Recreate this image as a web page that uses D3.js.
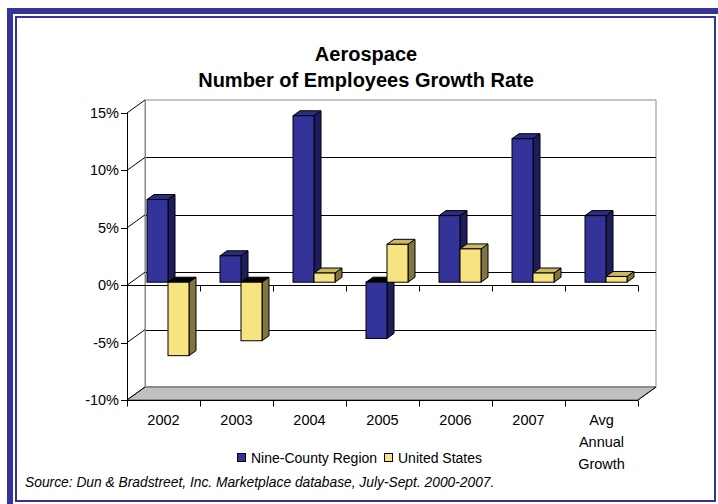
<!DOCTYPE html>
<html>
<head>
<meta charset="utf-8">
<script src="https://cdn.jsdelivr.net/npm/d3@7"></script>
<style>
  body { margin: 0; background: #fff; }
  svg { display: block; font-family: Arial, "Liberation Sans", sans-serif; }
</style>
</head>
<body>
<div class="chart"></div>
<script>
// Aerospace employee growth, 3D clustered columns

var categories = ['2002', '2003', '2004', '2005', '2006', '2007', 'Avg Annual Growth'];
var regionValues = [7.2, 2.3, 14.5, -4.9, 5.8, 12.5, 5.8];
var usValues = [-6.4, -5.1, 0.8, 3.3, 2.9, 0.8, 0.5];
var seriesNames = ['Nine-County Region', 'United States'];
var yTicks = [-10, -5, 0, 5, 10, 15];

var width = 718, height = 504;

var svg = d3.select('.chart').append('svg')
  .attr('width', width)
  .attr('height', height);

// frame
svg.append('path')
  .attr('d', 'M10,504 L10,11 L718,11')
  .attr('fill', 'none')
  .attr('stroke', '#333399')
  .attr('stroke-width', 6);
svg.append('rect')
  .attr('x', 16).attr('y', 17)
  .attr('width', 699).attr('height', 484)
  .attr('fill', 'none')
  .attr('stroke', '#333399')
  .attr('stroke-width', 2);

var xScale = d3.scaleBand()
  .domain(categories)
  .range([127, 638])
  .paddingInner(0);

var inner = d3.scaleBand()
  .domain(seriesNames)
  .range([16, 58]);

var yScale = d3.scaleLinear()
  .domain([-10, 15])
  .range([400, 113]);

var wallDx = 18, wallDy = -13;   // depth of the wall
var barDx = 4, barDy = -3;       // bar front offset
var depDx = 7, depDy = -5;       // bar depth

var x0 = 127, x1 = 638;

// back wall
svg.append('rect')
  .attr('x', x0 + wallDx).attr('y', yScale(15) + wallDy)
  .attr('width', x1 - x0).attr('height', yScale(-10) - yScale(15))
  .attr('fill', '#fff')
  .attr('stroke', '#8a8a8a');

// floor
svg.append('path')
  .attr('d', 'M' + x0 + ',' + yScale(-10) + ' L' + x1 + ',' + yScale(-10) +
    ' L' + (x1 + wallDx) + ',' + (yScale(-10) + wallDy) +
    ' L' + (x0 + wallDx) + ',' + (yScale(-10) + wallDy) + 'Z')
  .attr('fill', '#c0c0c0')
  .attr('stroke', '#555')
  .attr('stroke-width', 1);

// gridlines on back wall
svg.selectAll('.grid')
  .data(yTicks.filter(function(d) { return d > -10 && d < 15; }))
  .enter()
  .append('line')
    .attr('x1', x0 + wallDx)
    .attr('x2', x1 + wallDx)
    .attr('y1', function(d) { return Math.round(yScale(d) + wallDy) + 0.5; })
    .attr('y2', function(d) { return Math.round(yScale(d) + wallDy) + 0.5; })
    .attr('stroke', '#000');

// left wall
svg.append('line')
  .attr('x1', x0 + wallDx + 0.5).attr('x2', x0 + wallDx + 0.5)
  .attr('y1', yScale(15) + wallDy).attr('y2', yScale(-10) + wallDy)
  .attr('stroke', '#8a8a8a');
svg.selectAll('.sidegrid')
  .data(yTicks)
  .enter()
  .append('line')
    .attr('x1', x0).attr('y1', function(d) { return yScale(d); })
    .attr('x2', x0 + wallDx).attr('y2', function(d) { return yScale(d) + wallDy; })
    .attr('stroke', '#000');

// value axis
svg.append('line')
  .attr('x1', x0 + 0.5).attr('x2', x0 + 0.5)
  .attr('y1', yScale(15)).attr('y2', yScale(-10))
  .attr('stroke', '#000');
svg.selectAll('.ytick')
  .data(yTicks)
  .enter()
  .append('line')
    .attr('x1', x0 - 6).attr('x2', x0)
    .attr('y1', function(d) { return Math.round(yScale(d)) + 0.5; })
    .attr('y2', function(d) { return Math.round(yScale(d)) + 0.5; })
    .attr('stroke', '#000');
svg.selectAll('.ylabel')
  .data(yTicks)
  .enter()
  .append('text')
    .attr('x', x0 - 8)
    .attr('y', function(d) { return yScale(d) + 5; })
    .attr('text-anchor', 'end')
    .attr('font-size', 14.5)
    .attr('fill', '#000')
    .text(function(d) { return d + '%'; });

// category axis at 0 and at floor
var bounds = categories.map(function(c) { return xScale(c); }).concat([x1]);
[0, -10].forEach(function(level) {
  var yy = Math.round(yScale(level)) + 0.5;
  svg.append('line')
    .attr('x1', x0).attr('x2', x1)
    .attr('y1', yy).attr('y2', yy)
    .attr('stroke', '#000');
  svg.selectAll(null)
    .data(bounds)
    .enter()
    .append('line')
      .attr('x1', function(d) { return Math.round(d) + 0.5; })
      .attr('x2', function(d) { return Math.round(d) + 0.5; })
      .attr('y1', yy).attr('y2', yy + 6)
      .attr('stroke', '#000');
});
svg.append('line')
  .attr('x1', x1).attr('y1', yScale(-10))
  .attr('x2', x1 + wallDx).attr('y2', yScale(-10) + wallDy)
  .attr('stroke', '#000');

// bars
var colors = {
  'Nine-County Region': { front: '#333399', side: '#1d1d5c', top: '#2c2c85' },
  'United States': { front: '#f8e381', side: '#807442', top: '#c9b767' }
};

var bars = [];
categories.forEach(function(c, i) {
  bars.push({ cat: c, series: seriesNames[0], value: regionValues[i] });
  bars.push({ cat: c, series: seriesNames[1], value: usValues[i] });
});

var barGroups = svg.selectAll('.bar')
  .data(bars)
  .enter()
  .append('g')
    .attr('class', 'bar');

function pts(arr) {
  return arr.map(function(p) { return p[0] + ',' + p[1]; }).join(' ');
}

barGroups.each(function(d) {
  var g = d3.select(this);
  var left = xScale(d.cat) + inner(d.series) + barDx;
  var right = left + inner.bandwidth();
  var yTop = yScale(Math.max(d.value, 0)) + barDy;
  var yBot = yScale(Math.min(d.value, 0)) + barDy;
  var c = colors[d.series];
  // side
  g.append('polygon')
    .attr('points', pts([[right, yTop], [right + depDx, yTop + depDy],
      [right + depDx, yBot + depDy], [right, yBot]]))
    .attr('fill', c.side)
    .attr('stroke', '#000').attr('stroke-width', 1).attr('stroke-linejoin', 'round');
  // top
  g.append('polygon')
    .attr('points', pts([[left, yTop], [right, yTop],
      [right + depDx, yTop + depDy], [left + depDx, yTop + depDy]]))
    .attr('fill', d.value < 0 ? '#000' : c.top)
    .attr('stroke', '#000').attr('stroke-width', 1).attr('stroke-linejoin', 'round');
  // front
  g.append('rect')
    .attr('x', left).attr('y', yTop)
    .attr('width', right - left).attr('height', yBot - yTop)
    .attr('fill', c.front)
    .attr('stroke', '#000').attr('stroke-width', 1);
});

// category labels
svg.selectAll('.xlabel')
  .data(categories)
  .enter()
  .append('text')
    .attr('x', function(d) { return xScale(d) + xScale.bandwidth() / 2; })
    .attr('y', 425)
    .attr('text-anchor', 'middle')
    .attr('font-size', 14.5)
    .attr('fill', '#000')
    .each(function(d) {
      var t = d3.select(this);
      d.split(' ').forEach(function(w, i) {
        t.append('tspan')
          .attr('x', xScale(d) + xScale.bandwidth() / 2)
          .attr('dy', i === 0 ? 0 : 22)
          .text(w);
      });
    });

// title
svg.append('text')
  .attr('x', 366).attr('y', 61)
  .attr('text-anchor', 'middle')
  .attr('font-size', 20).attr('font-weight', 'bold')
  .text('Aerospace');
svg.append('text')
  .attr('x', 366).attr('y', 87)
  .attr('text-anchor', 'middle')
  .attr('font-size', 20).attr('font-weight', 'bold')
  .text('Number of Employees Growth Rate');

// legend
var legendX = [237, 384];
seriesNames.forEach(function(s, i) {
  svg.append('rect')
    .attr('x', legendX[i] + 0.5).attr('y', 453.5)
    .attr('width', 8).attr('height', 8)
    .attr('fill', colors[s].front)
    .attr('stroke', '#000');
  svg.append('text')
    .attr('x', legendX[i] + 14).attr('y', 463)
    .attr('font-size', 14)
    .text(s);
});

// source
svg.append('text')
  .attr('x', 25).attr('y', 487)
  .attr('font-size', 13.8)
  .attr('font-style', 'italic')
  .text('Source: Dun & Bradstreet, Inc. Marketplace database, July-Sept. 2000-2007.');
</script>
</body>
</html>
